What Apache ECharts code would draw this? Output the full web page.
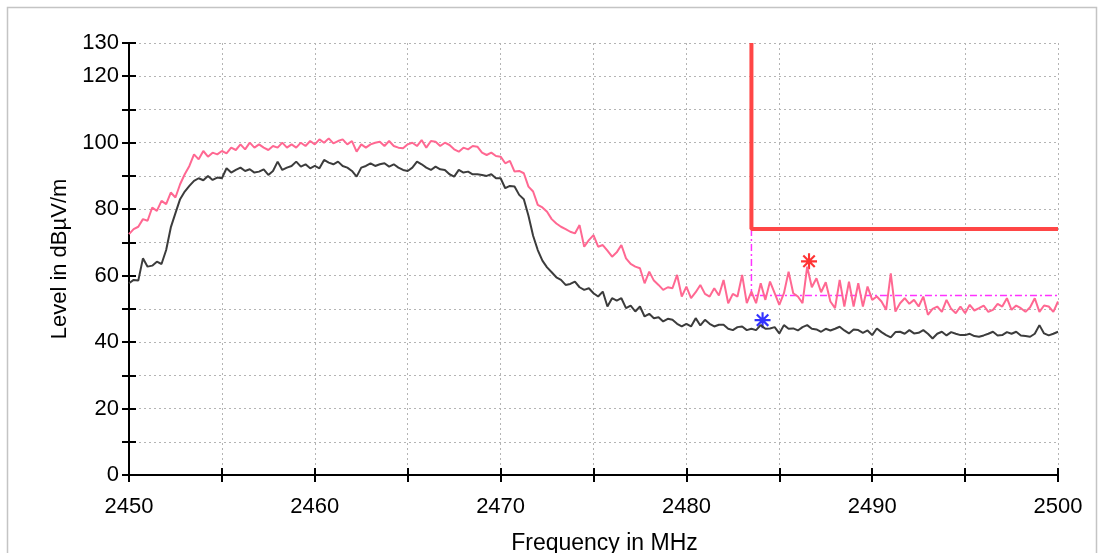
<!DOCTYPE html>
<html>
<head>
<meta charset="utf-8">
<script src="https://cdn.jsdelivr.net/npm/echarts@6/dist/echarts.min.js"></script>
<style>
  html, body { margin: 0; padding: 0; background: #fff; }
  #chart { width: 1101px; height: 553px; }
</style>
</head>
<body>
<div id="chart"></div>
<script>
// sweep: 2450 .. 2500 MHz, one reading every 0.25 MHz
const freqStart = 2450;
const freqStep = 0.25;

// peak trace (pink), one row = 5 MHz
const peakTrace = [
  72.5, 74.0, 74.7, 77.0, 76.5, 80.5, 79.5, 82.5, 81.5, 85.0, 83.5, 87.5, 90.5, 93.0, 96.5, 95.0, 97.5, 95.8, 97.0, 96.5,
  97.5, 96.8, 98.5, 97.8, 99.5, 98.0, 100.0, 98.5, 99.5, 98.5, 97.8, 99.0, 98.5, 100.0, 98.5, 99.5, 98.5, 100.0, 99.0, 100.5,
  99.5, 101.0, 100.0, 101.3, 99.8, 100.5, 101.0, 99.5, 100.5, 97.3, 99.5, 98.5, 99.5, 100.0, 100.3, 99.0, 100.5, 99.0, 98.5, 98.3,
  99.5, 100.0, 99.0, 100.8, 98.5, 100.5, 100.3, 99.0, 100.0, 99.3, 98.0, 97.3, 98.5, 98.0, 99.0, 98.8, 97.0, 96.3, 97.0, 96.0,
  95.8, 93.8, 94.5, 91.3, 91.5, 90.8, 86.8, 85.3, 81.3, 80.5, 79.2, 77.0, 75.7, 74.7, 74.0, 73.2, 72.7, 75.2, 68.7, 70.7,
  72.2, 68.7, 69.2, 67.5, 65.7, 67.0, 69.2, 65.2, 63.5, 62.7, 62.2, 57.7, 61.2, 58.5, 57.2, 55.7, 56.5, 56.2, 60.2, 53.7,
  56.7, 53.2, 55.0, 57.2, 54.5, 53.7, 56.2, 54.0, 58.7, 51.7, 54.5, 53.7, 60.2, 51.7, 55.2, 51.7, 57.7, 52.7, 58.2, 54.7,
  51.2, 54.7, 61.2, 54.7, 53.7, 51.7, 62.7, 56.5, 59.2, 55.0, 58.0, 52.2, 50.2, 58.7, 50.7, 58.2, 50.7, 57.7, 50.7, 56.7,
  52.7, 53.7, 52.2, 49.7, 60.7, 49.2, 51.7, 53.2, 51.5, 52.7, 50.7, 53.7, 48.2, 50.0, 50.7, 49.1, 52.7, 50.0, 48.7, 50.7,
  48.7, 51.2, 49.5, 50.2, 51.0, 49.1, 49.7, 51.5, 50.7, 53.2, 49.7, 51.0, 50.2, 49.1, 50.5, 53.2, 49.1, 51.0, 50.7, 49.1,
  52.2
];

// average trace (dark grey)
const avgTrace = [
  57.7, 58.7, 58.5, 65.2, 62.7, 63.0, 64.2, 63.5, 67.7, 74.5, 78.8, 83.0, 85.3, 87.0, 88.5, 89.3, 88.7, 90.0, 88.8, 89.5,
  89.3, 92.3, 91.0, 91.8, 92.5, 91.5, 92.0, 91.0, 91.3, 92.0, 90.3, 91.5, 94.3, 91.8, 92.5, 93.0, 94.3, 92.8, 93.5, 92.3,
  93.0, 92.3, 94.8, 94.0, 93.5, 94.3, 93.0, 92.5, 91.5, 89.8, 92.5, 93.0, 93.8, 93.0, 93.5, 93.8, 92.8, 93.5, 92.5, 91.8,
  91.5, 92.5, 94.3, 93.5, 92.5, 91.8, 92.8, 92.0, 91.8, 90.5, 89.8, 91.8, 91.0, 91.3, 90.5, 90.5, 90.3, 90.0, 90.5, 89.3,
  89.3, 86.3, 87.0, 86.8, 84.3, 83.0, 78.0, 72.0, 67.7, 64.5, 62.5, 61.0, 59.5, 58.7, 57.2, 57.5, 58.2, 56.5, 55.7, 56.2,
  54.7, 53.7, 55.2, 50.7, 53.2, 52.5, 53.2, 50.2, 51.0, 49.2, 50.7, 47.7, 48.5, 47.2, 47.5, 46.2, 47.0, 46.7, 45.5, 44.7,
  45.5, 44.7, 47.2, 45.0, 46.7, 45.5, 44.7, 45.2, 45.2, 44.0, 43.6, 44.5, 44.7, 43.6, 44.0, 43.6, 45.1, 44.0, 44.1, 44.5,
  42.6, 45.1, 44.0, 44.1, 43.5, 44.5, 45.1, 44.0, 43.8, 43.1, 44.0, 43.5, 44.0, 44.6, 43.5, 42.6, 43.8, 43.6, 42.8, 43.5,
  42.1, 44.1, 43.0, 42.1, 41.4, 43.0, 43.1, 42.5, 43.6, 42.6, 42.8, 43.6, 42.5, 41.1, 42.5, 43.1, 42.0, 43.0, 42.5, 42.1,
  42.1, 42.5, 41.8, 41.6, 42.0, 42.5, 43.1, 42.0, 42.1, 43.0, 42.5, 43.1, 42.0, 41.8, 41.6, 42.5, 45.1, 42.6, 42.0, 42.5,
  43.1
];

// limit lines
const limitFreq = [2483.5, 2483.5, 2500];
const peakLimit = [130, 74, 74];
const avgLimit = [74, 54, 54];

// markers
const peakMarkFreq = [2486.6];
const peakMarkLevel = [64.3];
const avgMarkFreq = [2484.1];
const avgMarkLevel = [46.6];

// axis ticks
const yLabelValues = [0, 20, 40, 60, 80, 100, 120, 130];
const xLabelValues = [2450, 2460, 2470, 2480, 2490, 2500];

function toPairs(values) {
  return values.map((v, i) => [freqStart + i * freqStep, v]);
}
function zip(xs, ys) {
  return xs.map((x, i) => [x, ys[i]]);
}

const asterisk = 'path://M1,8.8L19,8.8L19,11.2L1,11.2Z M8.8,1L11.2,1L11.2,19L8.8,19Z ' +
  'M2.7,4.4L4.4,2.7L17.3,15.6L15.6,17.3Z M15.6,2.7L17.3,4.4L4.4,17.3L2.7,15.6Z';

const font = 'Liberation Sans';
const gridLine = { show: true, lineStyle: { color: '#b4b4b4', type: [2, 3], width: 1 } };

let myChart = echarts.init(document.getElementById('chart'));
myChart.setOption({
  animation: false,
  backgroundColor: '#ffffff',
  graphic: [{
    type: 'rect',
    shape: { x: 7.5, y: 7.5, width: 1089, height: 560 },
    style: { fill: 'none', stroke: '#c4c4c4', lineWidth: 1.5 },
    silent: true
  }],
  grid: { left: 129, right: 43, top: 43, bottom: 78, outerBoundsMode: 'none' },
  xAxis: [
    {
      type: 'value', min: 2450, max: 2500, interval: 5,
      name: 'Frequency in MHz', nameLocation: 'middle', nameGap: 57,
      nameTextStyle: { fontFamily: font, fontSize: 23, color: '#000', padding: [0, 0, 0, 22] },
      axisLine: { lineStyle: { color: '#000', width: 2 } },
      axisTick: { length: 7, lineStyle: { color: '#000', width: 2 } },
      axisLabel: {
        margin: 21, fontFamily: font, fontSize: 22, color: '#000',
        formatter: v => (xLabelValues.indexOf(v) >= 0 ? String(v) : '')
      },
      splitLine: gridLine
    },
    {
      type: 'value', min: 2450, max: 2500, interval: 5, position: 'bottom',
      axisLine: { show: false },
      axisTick: { inside: true, length: 7, lineStyle: { color: '#000', width: 2 } },
      axisLabel: { show: false },
      splitLine: { show: false }
    }
  ],
  yAxis: [
    {
      type: 'value', min: 0, max: 130, interval: 10,
      name: 'Level in dBµV/m', nameLocation: 'middle', nameGap: 58, nameRotate: 90,
      nameTextStyle: { fontFamily: font, fontSize: 22, color: '#000' },
      axisLine: { show: true, lineStyle: { color: '#000', width: 2 } },
      axisTick: { show: true, length: 7, lineStyle: { color: '#000', width: 2 } },
      axisLabel: {
        margin: 10, fontFamily: font, fontSize: 22, color: '#000',
        formatter: v => (yLabelValues.indexOf(v) >= 0 ? String(v) : '')
      },
      splitLine: gridLine
    },
    {
      type: 'value', min: 0, max: 130, interval: 10, position: 'left', offset: 0,
      axisLine: { show: false },
      axisTick: { show: true, inside: true, length: 7, lineStyle: { color: '#000', width: 2 } },
      axisLabel: { show: false },
      splitLine: { show: false }
    }
  ],
  series: [
    {
      name: 'Average limit', type: 'line', showSymbol: false, silent: true,
      data: zip(limitFreq, avgLimit),
      lineStyle: { color: '#ff33ff', width: 1.5, type: [7, 3, 2, 3] }
    },
    {
      name: 'Average', type: 'line', showSymbol: false,
      data: toPairs(avgTrace),
      lineStyle: { color: '#3c3c3c', width: 2 }
    },
    {
      name: 'Peak', type: 'line', showSymbol: false,
      data: toPairs(peakTrace),
      lineStyle: { color: '#ff6892', width: 2 }
    },
    {
      name: 'Peak limit', type: 'line', showSymbol: false, silent: true,
      data: zip(limitFreq, peakLimit),
      lineStyle: { color: '#ff4646', width: 4 }
    },
    {
      name: 'Peak marker', type: 'scatter', symbol: asterisk, symbolSize: 16,
      data: zip(peakMarkFreq, peakMarkLevel),
      itemStyle: { color: '#ff0000' }
    },
    {
      name: 'Average marker', type: 'scatter', symbol: asterisk, symbolSize: 16,
      data: zip(avgMarkFreq, avgMarkLevel),
      itemStyle: { color: '#0000ff' }
    }
  ]
});
</script>
</body>
</html>
